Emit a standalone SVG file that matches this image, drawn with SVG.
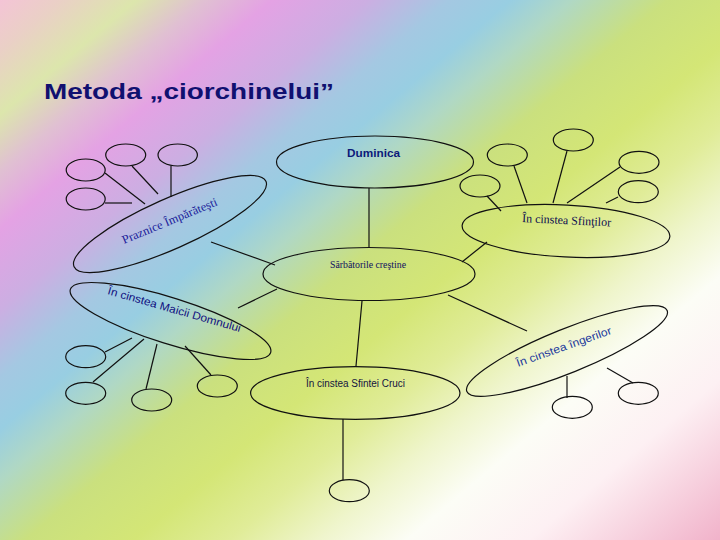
<svg xmlns="http://www.w3.org/2000/svg" width="720" height="540" viewBox="0 0 720 540">
<defs>
<linearGradient id="bg" gradientUnits="userSpaceOnUse" x1="0" y1="0" x2="564" y2="671">
<stop offset="0" stop-color="#f4c4d6"/>
<stop offset="0.045" stop-color="#ead0c6"/>
<stop offset="0.10" stop-color="#dce6ac"/>
<stop offset="0.15" stop-color="#e0c0d2"/>
<stop offset="0.20" stop-color="#e4a2e4"/>
<stop offset="0.27" stop-color="#ccaee2"/>
<stop offset="0.33" stop-color="#a4c8e2"/>
<stop offset="0.375" stop-color="#98cee2"/>
<stop offset="0.42" stop-color="#b0d8c4"/>
<stop offset="0.49" stop-color="#cae07e"/>
<stop offset="0.57" stop-color="#d4e676"/>
<stop offset="0.64" stop-color="#e0ec98"/>
<stop offset="0.705" stop-color="#eff5cc"/>
<stop offset="0.77" stop-color="#fcfdf6"/>
<stop offset="0.86" stop-color="#fdf0f3"/>
<stop offset="1" stop-color="#f1b2ca"/>
</linearGradient>
<style>
.sh{fill:none;stroke:#111;stroke-width:1.2}
.cn line{stroke:#111;stroke-width:1.2}
.sans{font-family:"Liberation Sans",Arial,sans-serif}
.serif{font-family:"Liberation Serif","Times New Roman",serif}
</style>
</defs>
<rect x="0" y="0" width="720" height="540" fill="url(#bg)"/>
<text class="sans" x="44" y="99" font-size="22" font-weight="bold" fill="#101070" textLength="290" lengthAdjust="spacingAndGlyphs">Metoda „ciorchinelui”</text>

<g id="connectors" class="cn">
<line x1="369" y1="188" x2="369" y2="248"/>
<line x1="211" y1="242" x2="275" y2="265"/>
<line x1="487" y1="242" x2="462" y2="262"/>
<line x1="238" y1="308" x2="277" y2="289"/>
<line x1="448" y1="295" x2="527" y2="331"/>
<line x1="362" y1="301" x2="356" y2="366"/>
<line x1="343" y1="419" x2="343" y2="480"/>
<line x1="105" y1="173" x2="145" y2="204"/>
<line x1="132" y1="166" x2="158" y2="194"/>
<line x1="105" y1="203" x2="132" y2="203"/>
<line x1="171" y1="166" x2="171" y2="197"/>
<line x1="567" y1="151" x2="553" y2="203"/>
<line x1="514" y1="166" x2="527" y2="203"/>
<line x1="620" y1="167" x2="567" y2="203"/>
<line x1="618" y1="197" x2="606" y2="203"/>
<line x1="487" y1="196" x2="501" y2="211"/>
<line x1="105" y1="352" x2="132" y2="338"/>
<line x1="93" y1="382" x2="144" y2="339"/>
<line x1="146" y1="389" x2="157" y2="344"/>
<line x1="211" y1="375" x2="185" y2="346"/>
<line x1="567" y1="376" x2="567" y2="398"/>
<line x1="607" y1="368" x2="633" y2="383"/>
</g>

<g id="duminica">
<ellipse class="sh" cx="375" cy="162" rx="98.5" ry="26"/>
<text class="sans" x="373.5" y="157" font-size="11" font-weight="bold" fill="#0c1a7a" text-anchor="middle" textLength="53" lengthAdjust="spacingAndGlyphs">Duminica</text>
</g>

<g id="sarbatori">
<ellipse class="sh" cx="369" cy="274" rx="106" ry="26.5"/>
<text class="serif" x="368" y="267.5" font-size="10" fill="#101060" text-anchor="middle" textLength="76" lengthAdjust="spacingAndGlyphs">Sărbătorile creştine</text>
</g>

<g id="praznice">
<ellipse class="sh" cx="170" cy="224" rx="105" ry="25" transform="rotate(-24 170 224)"/>
<text class="serif" x="124" y="244" font-size="12" fill="#1c1c9a" transform="rotate(-22.5 124 244)" textLength="102" lengthAdjust="spacingAndGlyphs">Praznice Împărăteşti</text>
</g>

<g id="sfintilor">
<ellipse class="sh" cx="566" cy="231" rx="104" ry="26" transform="rotate(3 566 231)"/>
<text class="serif" x="522" y="222" font-size="12" fill="#0c0c50" transform="rotate(2.8 522 222)" textLength="89" lengthAdjust="spacingAndGlyphs">În cinstea Sfinţilor</text>
</g>

<g id="maicii">
<ellipse class="sh" cx="170.5" cy="321" rx="105" ry="23" transform="rotate(17.5 170.5 321)"/>
<text class="sans" x="107" y="294" font-size="11" fill="#101080" transform="rotate(16 107 294)" textLength="138" lengthAdjust="spacingAndGlyphs">În cinstea Maicii Domnului</text>
</g>

<g id="cruci">
<ellipse class="sh" cx="355.3" cy="393" rx="104.7" ry="26.3"/>
<text class="sans" x="355.5" y="386.5" font-size="10" fill="#141440" text-anchor="middle" textLength="99" lengthAdjust="spacingAndGlyphs">În cinstea Sfintei Cruci</text>
</g>

<g id="ingerilor">
<ellipse class="sh" cx="567" cy="351" rx="108" ry="22" transform="rotate(-22 567 351)"/>
<text class="sans" x="518" y="367" font-size="11" fill="#1c3a9c" transform="rotate(-19.5 518 367)" textLength="100" lengthAdjust="spacingAndGlyphs">În cinstea îngerilor</text>
</g>

<g id="leaf-p1"><ellipse class="sh" cx="85.7" cy="170" rx="19.5" ry="11"/></g>
<g id="leaf-p2"><ellipse class="sh" cx="125.7" cy="155" rx="20" ry="11"/></g>
<g id="leaf-p3"><ellipse class="sh" cx="85.7" cy="199" rx="19.5" ry="11"/></g>
<g id="leaf-p4"><ellipse class="sh" cx="177.7" cy="155" rx="19.7" ry="11"/></g>

<g id="leaf-s1"><ellipse class="sh" cx="573.3" cy="140" rx="20" ry="11"/></g>
<g id="leaf-s2"><ellipse class="sh" cx="507.3" cy="155" rx="20" ry="11"/></g>
<g id="leaf-s3"><ellipse class="sh" cx="639" cy="162.3" rx="20" ry="11"/></g>
<g id="leaf-s4"><ellipse class="sh" cx="638.3" cy="191.7" rx="20" ry="11"/></g>
<g id="leaf-s5"><ellipse class="sh" cx="480" cy="186" rx="20" ry="11"/></g>

<g id="leaf-m1"><ellipse class="sh" cx="85.7" cy="356.7" rx="20" ry="11"/></g>
<g id="leaf-m2"><ellipse class="sh" cx="85.7" cy="393.3" rx="20" ry="11"/></g>
<g id="leaf-m3"><ellipse class="sh" cx="151.7" cy="400" rx="20" ry="11"/></g>
<g id="leaf-m4"><ellipse class="sh" cx="217.3" cy="386" rx="20" ry="11"/></g>

<g id="leaf-i1"><ellipse class="sh" cx="572.3" cy="407.3" rx="20" ry="11"/></g>
<g id="leaf-i2"><ellipse class="sh" cx="638.3" cy="393.3" rx="20" ry="11"/></g>

<g id="leaf-c1"><ellipse class="sh" cx="349.3" cy="490.7" rx="20" ry="11"/></g>
</svg>
